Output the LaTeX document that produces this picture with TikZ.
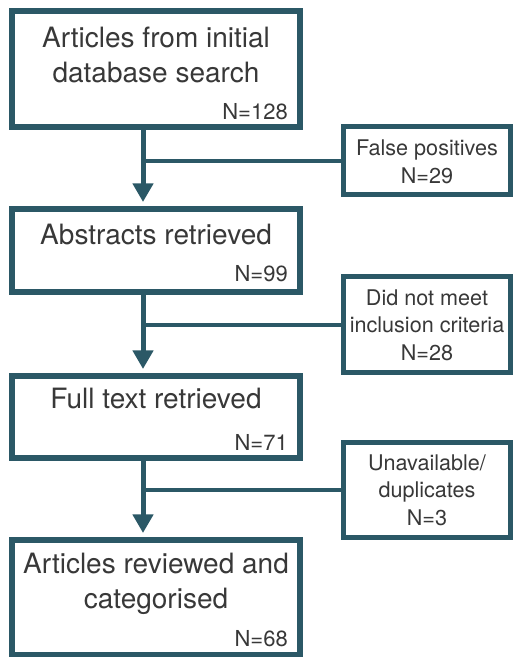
\documentclass[tikz,border=0pt]{standalone}
\usepackage{fontspec}
\setmainfont{TeX Gyre Heros}
\usetikzlibrary{positioning,arrows.meta}
\definecolor{boxteal}{HTML}{2B5866}
\definecolor{inkgrey}{HTML}{383838}

\begin{document}
\begin{tikzpicture}[x=0.75pt,y=-0.75pt,
    mainbox/.style={draw=boxteal, line width=4.5pt, minimum width=216pt, inner sep=0pt},
    sidebox/.style={draw=boxteal, line width=3.75pt, minimum width=125.25pt, inner sep=0pt},
    title/.style={text=inkgrey, font=\fontsize{21}{26.25}\selectfont, align=center, anchor=base, inner sep=0pt},
    count/.style={text=inkgrey, font=\fontsize{16.5}{18}\selectfont, anchor=base east, inner sep=0pt},
    sidetext/.style={text=inkgrey, font=\fontsize{16.2}{20.5}\selectfont, align=center, anchor=base, inner sep=0pt},
    flow/.style={draw=boxteal, line width=3.75pt, -{Triangle[width=15pt,length=14pt]}, shorten >=3pt},
    branch/.style={draw=boxteal, line width=3pt}]
    \useasboundingbox (0,0) rectangle (513,657);
    	\begin{scope}
          % main column
          \node[mainbox, minimum height=87pt] at (156,69) (b1) {};
          \node[mainbox, minimum height=62.25pt] at (156,250.5) (b2) {};
          \node[mainbox, minimum height=61.5pt] at (156,417) (b3) {};
          \node[mainbox, minimum height=86.25pt] at (156,597.5) (b4) {};
          % excluded
          \node[sidebox, minimum height=51pt] at (427,160.5) (s1) {};
          \node[sidebox, minimum height=72pt] at (427,324.5) (s2) {};
          \node[sidebox, minimum height=71.25pt] at (427,490) (s3) {};
          \coordinate (trunk) at (143,0);

          % base = last line
    		\node[title] at (156,82) (t1) {Articles from initial\\database search};
    		\node[count] at (288,119) (n1) {N=128};
    		\node[title] at (156,244) (t2) {Abstracts retrieved};
    		\node[count] at (288,281) (n2) {N=99};
    		\node[title] at (156,408) (t3) {Full text retrieved};
    		\node[count] at (288,450) (n3) {N=71};
    		\node[title] at (156,608) (t4) {Articles reviewed and\\categorised};
    		\node[count] at (288,646) (n4) {N=68};

    		\node[sidetext] at (427,183) (e1) {False positives\\N=29};
    		\node[sidetext] at (427,360) (e2) {Did not meet\\inclusion criteria\\N=28};
    		\node[sidetext] at (427,525) (e3) {Unavailable/\\duplicates\\N=3};

          \draw[flow] (b1.south -| trunk) -- (b2.north -| trunk);
          \draw[flow] (b2.south -| trunk) -- (b3.north -| trunk);
          \draw[flow] (b3.south -| trunk) -- (b4.north -| trunk);
          \draw[branch] (s1.west) -- (s1.west -| trunk);
          \draw[branch] (s2.west) -- (s2.west -| trunk);
          \draw[branch] (s3.west) -- (s3.west -| trunk);
    	\end{scope}

	\end{tikzpicture}
\end{document}
